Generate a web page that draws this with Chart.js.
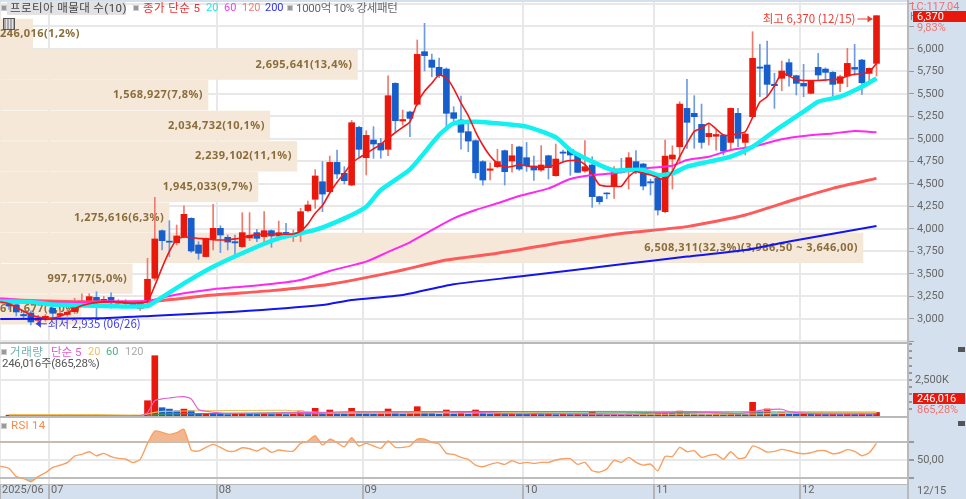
<!DOCTYPE html>
<html>
<head>
<meta charset="utf-8">
<script src="https://cdn.jsdelivr.net/npm/chart.js@4"></script>
<style>
html, body { margin: 0; padding: 0; width: 966px; height: 499px; overflow: hidden; background: #d5e0ee; font-family: "Noto Sans CJK KR", sans-serif; }
canvas { position: absolute; left: 0; }
.t { position: absolute; font-size: 11.5px; line-height: 14px; white-space: nowrap; font-family: Roboto, "Noto Sans CJK KR", sans-serif; }
.n { font-size: 11px; }
.sq { position: absolute; width: 4px; height: 4px; background: #999; border: 1px solid #ccc; }
.line { position: absolute; background: #b9b9b9; }
</style>
</head>
<body>
<canvas id="profileChart" width="908" height="341" style="top:2px"></canvas>
<canvas id="mainChart" width="966" height="341" style="top:2px"></canvas>
<canvas id="volumeChart" width="966" height="74" style="top:343px"></canvas>
<canvas id="rsiChart" width="966" height="82" style="top:417px"></canvas>

<div class="line" style="left:0;top:342px;width:908px;height:2px"></div>
<div class="line" style="left:0;top:416px;width:908px;height:2px"></div>
<div class="line" style="left:0;top:484px;width:908px;height:1px"></div>
<div class="line" style="left:907px;top:0;width:2px;height:499px"></div>

<div class="sq" style="left:1px;top:5px"></div>
<div class="t" style="left:7px;top:1px;width:119px;height:14px;background:#e2e2e2;color:#444;padding-left:3px;box-sizing:border-box;letter-spacing:.4px">프로티아 매물대 수(10)</div>
<div class="sq" style="left:133px;top:5px"></div>
<div class="t" style="left:143px;top:1px;color:#f03030;letter-spacing:.4px">종가 단순 5</div>
<div class="t n" style="left:206px;top:1px;color:#22e8e8">20</div>
<div class="t n" style="left:224px;top:1px;color:#f040f0">60</div>
<div class="t n" style="left:242px;top:1px;color:#f87878">120</div>
<div class="t n" style="left:265px;top:1px;color:#3030f0">200</div>
<div class="sq" style="left:287px;top:5px"></div>
<div class="t" style="left:296px;top:1px;color:#666;letter-spacing:-.3px">1000억 10% 강세패턴</div>
<div style="position:absolute;left:3px;top:18px;width:10px;height:10px;border:1px solid #555;background:repeating-linear-gradient(90deg,#aaa 0 2px,#e4e4e4 2px 3px)"></div>

<div class="sq" style="left:1px;top:349px"></div>
<div class="t" style="left:10px;top:345px;color:#6fb0b0;letter-spacing:.6px">거래량</div>
<div class="t" style="left:51px;top:345px;color:#e060d0">단순 5</div>
<div class="t n" style="left:88px;top:345px;color:#f0c060">20</div>
<div class="t n" style="left:106px;top:345px;color:#50b080">60</div>
<div class="t n" style="left:125px;top:345px;color:#aaa">120</div>
<div class="t" style="left:2px;top:356px;color:#555;letter-spacing:-.3px">246,016주(865,28%)</div>

<div class="sq" style="left:1px;top:423px"></div>
<div class="t" style="left:11px;top:418px;color:#f58a50;letter-spacing:.3px">RSI 14</div>

<div class="t n" style="left:911px;top:0;color:#f07070">LC:117,04</div>
<div class="t n" style="left:910px;top:10px;color:#5a8ad8">H</div>
<div class="t n" style="left:913px;top:11px;width:53px;height:11px;line-height:11px;background:#e8180c;color:#fff;padding-left:4px;box-sizing:border-box">6,370</div>
<div class="t n" style="left:917px;top:21px;color:#f07070">9,83%</div>
<div class="t n" style="left:913px;top:393px;width:52px;height:11px;line-height:11px;background:#e8180c;color:#fff;padding-left:4px;box-sizing:border-box">246,016</div>
<div class="t n" style="left:917px;top:403px;color:#f07070">865,28%</div>
<div class="t n" style="left:917px;top:484px;color:#666">12/15</div>
<div style="position:absolute;left:958px;top:347px;width:7px;height:5px;background:#555"></div>
<div style="position:absolute;left:958px;top:421px;width:7px;height:5px;background:#555"></div>

<script>
const opens = [3178,3156,3050,3067,2985,3000,3118,3040,3050,3081,
    3174,3174,3240,3204,3240,3195,3190,3174,3118,3181,
    3452,3981,3865,3848,3915,4118,3822,3693,3885,4007,
    3907,3859,3804,3900,3959,3915,3981,3922,3962,3915,
    3959,4204,4330,4525,4414,4740,4618,4488,5129,4792,
    4988,4951,4885,5618,5200,5300,5385,5970,5877,5796,
    5777,5292,5211,5081,4981,4748,4652,4692,4870,4755,
    4911,4792,4700,4655,4814,4592,4855,4885,4833,4644,
    4711,4359,4400,4470,4666,4666,4748,4722,4525,4562,
    4192,4777,4914,5340,5285,5162,5025,5030,5044,4962,
    5285,4962,5248,5800,5822,5608,5674,5848,5703,5618,
    5507,5796,5777,5740,5618,5700,5795,5877,5729,5840];
const closes = [3144,3078,3035,2967,3010,3030,3063,3060,3075,3174,
    3200,3248,3192,3218,3200,3175,3170,3137,3174,3441,
    3889,3870,3853,3922,4163,3755,3730,3896,4007,3933,
    3855,3845,3959,3930,3896,3981,3922,3959,3950,3952,
    4192,4267,4589,4388,4740,4611,4537,5181,4885,5040,
    4944,4877,5481,5203,5216,5229,5940,5926,5796,5703,
    5285,5229,5074,4977,4625,4544,4668,4748,4637,4814,
    4666,4703,4655,4711,4681,4777,4842,4822,4629,4692,
    4359,4303,4390,4666,4629,4792,4655,4477,4512,4210,
    4810,4822,5388,5185,5248,4962,5062,5050,4866,5340,
    5007,5055,5896,5786,5607,5592,5755,5703,5618,5588,
    5644,5711,5740,5607,5692,5840,5775,5625,5785,6370];
const highs = [3200,3190,3078,3090,3040,3050,3160,3100,3110,3230,
    3280,3280,3303,3250,3290,3215,3215,3180,3180,3674,
    4352,3990,4092,4044,4256,4125,3859,3900,4274,4037,
    3933,3933,4181,4181,3996,4192,3990,4088,4063,3990,
    4230,4310,4660,4748,4810,4877,4692,5206,5140,5092,
    5137,5007,5703,5625,5322,5310,6100,6285,5944,5900,
    5790,5359,5477,5211,4990,4760,4736,4885,4878,4940,
    4920,4962,4811,4926,4820,4944,4877,4890,4840,4981,
    4803,4365,4403,4692,4785,4848,4870,4730,4555,4570,
    4988,4925,5414,5662,5481,5388,5173,5100,5050,5345,
    5340,5062,6192,6052,6088,5730,5866,5888,5710,5830,
    5650,5951,5790,5750,5710,6007,6051,5885,5790,6370];
const lows = [3105,3034,3010,2935,2965,2975,3010,3020,3030,3060,
    3150,3165,3018,3190,3120,3130,3130,3130,3095,3160,
    3430,3767,3693,3822,3900,3740,3663,3690,3767,3737,
    3767,3700,3795,3870,3860,3860,3796,3900,3915,3860,
    3860,4190,4229,4192,4400,4563,4500,4480,4803,4600,
    4785,4785,4814,5070,5155,5025,5370,5755,5692,5680,
    5129,5203,4888,4859,4563,4488,4545,4680,4488,4630,
    4650,4640,4540,4640,4555,4585,4748,4596,4625,4630,
    4240,4275,4335,4340,4620,4445,4615,4433,4377,4155,
    4180,4444,4729,4896,4896,4896,4933,4877,4822,4877,
    4915,4822,5240,5470,5470,5340,5536,5588,5489,5470,
    5500,5648,5644,5481,5525,5580,5710,5496,5610,5700];

// 화면 왼쪽 끝에서 잘린 구간
const leadDay = -1.2;
const ma5Lead = 3190;
const rsiLead = 43;

const ma5 = [3170,3130,3085,3045,3022,3010,3010,3030,3065,3115,
    3150,3170,3182,3190,3192,3190,3182,3175,3180,3195,
    3370,3570,3750,3880,3910,3905,3895,3890,3880,3878,
    3880,3890,3900,3925,3935,3942,3945,3942,3942,3945,
    3975,4055,4175,4260,4400,4520,4620,4730,4790,4840,
    4890,4940,5010,5070,5130,5190,5400,5530,5620,5710,
    5680,5560,5400,5260,5080,4930,4810,4730,4690,4695,
    4715,4700,4690,4685,4695,4710,4745,4760,4760,4715,
    4610,4490,4475,4475,4475,4580,4635,4618,4600,4570,
    4545,4640,4800,4950,5085,5120,5175,5110,5045,5040,
    5060,5080,5240,5410,5470,5590,5730,5700,5660,5650,
    5650,5650,5655,5660,5665,5700,5720,5725,5745,5840];

const ma20Days = [-1.2,3,6,10,15,19,20,24,28,33,37,42,46,49,51,55,59,61,64,66,71,75,77,80,83,85,87,89,91,93,96,99,102,105,109,111,114,117,119];
const ma20 = [3195,3190,3160,3150,3140,3145,3190,3396,3581,3767,3896,3989,4118,4248,4433,4662,5044,5174,5192,5181,5137,5018,4877,4748,4648,4655,4655,4599,4618,4692,4748,4803,4914,5088,5303,5414,5470,5581,5673];
const ma60Days = [-1.2,5,9,13,19,22,24,28,32,36,40,44,49,52,55,58,61,64,67,70,74,77,80,83,87,91,93,96,99,102,106,109,113,116,119];
const ma60 = [3230,3192,3185,3195,3200,3255,3285,3330,3359,3389,3433,3534,3637,3745,3852,3988,4118,4211,4285,4366,4451,4555,4599,4618,4673,4703,4766,4803,4877,4914,4996,5033,5062,5088,5074];
const ma120Days = [-1.2,5,10,19,28,36,44,53,60,67,76,84,93,101,108,113,119];
const ma120 = [3215,3200,3190,3192,3266,3315,3386,3526,3656,3730,3852,3950,4026,4155,4333,4451,4562];
const ma200Days = [-1.2,12,20,31,43,47,54,61,70,84,93,101,107,119];
const ma200 = [3000,3007,3037,3081,3155,3211,3267,3386,3471,3608,3693,3767,3860,4034];

// 매물대, 위에서 아래로
const profilePrices = [6167,5827,5487,5147,4807,4467,4127,3790,3447,3107];
const profileVolumes = [246016,2695641,1568927,2034732,2239102,1945033,1275616,6508311,997177,610677];
const profileLabels = ['246,016(1,2%)','2,695,641(13,4%)','1,568,927(7,8%)','2,034,732(10,1%)','2,239,102(11,1%)','1,945,033(9,7%)','1,275,616(6,3%)','6,508,311(32,3%)(3,986,50 ~ 3,646,00)','997,177(5,0%)','610,677(3,0%)'];

// 거래량 (천주)
const volumes = [60,30,25,70,30,25,30,35,25,30,
    35,30,30,25,30,25,30,25,30,1062,
    4187,576,480,355,480,368,150,180,170,120,
    100,120,150,130,110,130,110,130,100,120,
    347,180,535,200,417,180,130,535,220,170,
    140,160,486,220,150,180,646,300,180,130,
    417,150,200,140,417,180,130,170,140,160,
    130,120,140,110,130,100,130,110,140,120,
    300,150,110,130,110,140,120,130,110,180,
    300,200,340,180,150,130,110,130,100,140,
    120,110,950,300,490,190,220,180,160,180,
    130,150,120,140,120,150,120,140,120,246];
const volMa5Days = [0,18,19,20,21,22,23,24,25,26,27,30,40,44,48,52,56,60,64,68,72,80,85,90,92,95,100,102,103,104,106,107,110,115,119];
const volMa5 = [30,30,240,1070,1190,1250,1320,1340,1180,450,330,180,230,260,300,280,300,290,260,160,160,150,130,230,300,270,170,300,390,440,470,300,160,140,150];
const volMa20Days = [0,12,18,19,21,38,40,44,60,72,85,92,102,108,119];
const volMa20 = [90,90,60,150,320,400,320,230,220,200,120,130,140,200,240];
const volMa60Days = [19,22,40,60,72,80,100,108,119];
const volMa60 = [40,150,220,300,290,280,210,210,230];
const volMa120Days = [40,80,119];
const volMa120 = [150,320,280];

const rsi = [40.4,31,29,25.2,31,35.5,41.5,44,47,54.5,
    56.4,59.5,54.9,57.6,53.8,51.8,51.1,47,50.7,69,
    83.1,81.6,79.3,81.2,85,61.4,60.2,64.4,67.8,64.4,
    60.2,60.2,64,62.9,60.2,64,58.7,61.4,60.2,60.2,
    69,71.7,77.8,67,73.9,69.8,65.2,75.5,66,69,
    66,63.3,71.7,64.4,64.4,66,73.9,73.9,70.1,68.2,
    57.6,56.4,53,50.7,44.2,42.3,45,47,45,49.2,
    46.1,47.3,46.1,47.3,47.3,50,51.5,51.5,45,47.3,
    37.7,36.2,39.6,49.6,47.3,53,47.3,44.2,45.4,37.7,
    54.1,54.1,64.4,59.5,60.6,53,55.3,56.4,50.7,59.5,
    51.8,53,66,63.3,59.1,59.8,62.1,60.6,58.3,57.2,
    58.3,60.6,60.6,57.2,58.3,61.8,59.8,54.9,58.3,69];

const monthTicks = [-1.2346,5.5,28.5,48.5,70.5,88.5,108.5];
const monthLabels = ['2025/06','07','08','09','10','11','12'];
const priceTicks = [2750,3000,3250,3500,3750,4000,4250,4500,4750,5000,5250,5500,5750,6000,6250,6500];
const volumeTicks = [500,1000,1500,2000,2500,3000,3500,4000,4500,5000];
const rsiTicks = [30,50,70];

const xMin = -1.2346, xMax = 123.32;
const yMin = 2733, yMax = 6522;
const gridColor = '#e8e8e8';
const RED = '#e8180c', BLUE = '#155ecb';
const axisFont = { family: 'Roboto, sans-serif', size: 11 };

Chart.defaults.animation = false;
Chart.defaults.responsive = false;
Chart.defaults.plugins.legend.display = false;
Chart.defaults.plugins.tooltip.enabled = false;

const xy = (days, values) => days.map((d, i) => ({ x: d, y: values[i] }));
const days = opens.map((_, i) => i);
const lineSet = (data, color, width, order) => ({
    type: 'line', data, borderColor: color, borderWidth: width, pointRadius: 0, tension: 0.2, order, fill: false
});
const whitePlot = {
    id: 'whitePlot',
    beforeDraw(chart) {
        const a = chart.chartArea;
        chart.ctx.fillStyle = '#fff';
        chart.ctx.fillRect(a.left, a.top, a.width, a.height);
    }
};
const monthAxis = extra => Object.assign({
    type: 'linear', min: xMin, max: xMax, offset: false,
    afterBuildTicks: s => { s.ticks = monthTicks.map(v => ({ value: v })); },
    grid: { color: gridColor, lineWidth: 2, drawTicks: false, offset: false },
    border: { display: false },
    ticks: { display: false, autoSkip: false, maxRotation: 0 }
}, extra);
const rightAxis = (ticks, min, max, cb, grid) => ({
    position: 'right', min, max,
    afterBuildTicks: s => { s.ticks = ticks.map(v => ({ value: v })); },
    // 눈금 글자 때문에 플롯이 줄어들지 않게
    afterFit: s => { s.width = 58; s.paddingTop = 0; s.paddingBottom = 0; },
    grid: Object.assign({ tickLength: 6, tickColor: '#999' }, grid),
    border: { display: false },
    ticks: { color: '#666', font: axisFont, padding: 3, callback: cb, autoSkip: false }
});

// 매물대 막대 + 격자: 캔들 아래 캔버스
new Chart(document.getElementById('profileChart'), {
    type: 'bar',
    data: {
        datasets: [{
            data: profilePrices.map((p, i) => ({ x: profileVolumes[i], y: p })),
            backgroundColor: '#f5e8d8', barThickness: 29.5, xAxisID: 'x', yAxisID: 'y'
        }]
    },
    options: {
        indexAxis: 'y',
        layout: { padding: 0 },
        scales: {
            x: { display: false, type: 'linear', min: 0, max: 6847700 },
            months: monthAxis({ axis: 'x', position: 'bottom', afterFit: s => { s.height = 0; s.paddingLeft = 0; s.paddingRight = 0; } }),
            y: {
                type: 'linear', min: yMin, max: yMax, position: 'right', offset: false,
                afterBuildTicks: s => { s.ticks = priceTicks.map(v => ({ value: v })); },
                afterFit: s => { s.width = 0; s.paddingTop = 0; s.paddingBottom = 0; },
                grid: { color: gridColor, lineWidth: 2, drawTicks: false, offset: false },
                border: { display: false },
                ticks: { display: false }
            }
        }
    },
    plugins: [whitePlot, {
        id: 'profileText',
        afterDatasetsDraw(chart) {
            const ctx = chart.ctx;
            ctx.font = 'bold 11px "Noto Sans", sans-serif';
            ctx.letterSpacing = '0.45px';
            ctx.fillStyle = '#8a6d3b';
            ctx.textBaseline = 'middle';
            chart.getDatasetMeta(0).data.forEach((bar, i) => {
                const w = ctx.measureText(profileLabels[i]).width;
                ctx.textAlign = 'left';
                ctx.fillText(profileLabels[i], Math.max(0, bar.x - 5 - w), bar.y);
            });
        }
    }]
});

new Chart(document.getElementById('mainChart'), {
    data: {
        datasets: [
            { type: 'bar', data: days.map(i => ({ x: i, y: [lows[i], highs[i]] })), barThickness: 1, grouped: false, order: 7,
              backgroundColor: days.map(i => closes[i] >= opens[i] ? '#f0796b' : '#6d9be2') },
            { type: 'bar', data: days.map(i => ({ x: i, y: [opens[i], closes[i]] })), barThickness: 6, grouped: false, order: 6,
              backgroundColor: days.map(i => closes[i] >= opens[i] ? RED : BLUE) },
            lineSet(xy(ma200Days, ma200), '#1414f0', 2, 5),
            lineSet(xy(ma120Days, ma120), '#ff5a5a', 3, 4),
            lineSet(xy(ma60Days, ma60), '#ff28f0', 2, 3),
            lineSet(xy(ma20Days, ma20), '#12f0f0', 4.5, 2),
            lineSet([{ x: leadDay, y: ma5Lead }, ...xy(days, ma5)], '#f01818', 1.6, 1)
        ]
    },
    options: {
        layout: { padding: 0 },
        scales: {
            x: { type: 'linear', display: false, min: xMin, max: xMax, offset: false },
            y: rightAxis(priceTicks, yMin, yMax,
                v => (v >= 3000 && v <= 6000) ? v.toLocaleString('en-US') : '',
                { drawOnChartArea: false })
        }
    },
    plugins: [{
        id: 'extremes',
        afterDatasetsDraw(chart) {
            const ctx = chart.ctx, x = chart.scales.x, y = chart.scales.y;
            ctx.font = '11.5px "Noto Sans CJK KR", sans-serif';
            ctx.textBaseline = 'middle';
            const hx = x.getPixelForValue(119) - 4, hy = 17;
            ctx.fillStyle = ctx.strokeStyle = '#f03a30';
            ctx.lineWidth = 1;
            ctx.textAlign = 'right';
            ctx.fillText('최고 6,370 (12/15)', hx - 17, hy);
            ctx.beginPath(); ctx.moveTo(hx - 15, hy); ctx.lineTo(hx, hy); ctx.stroke();
            ctx.beginPath(); ctx.moveTo(hx, hy); ctx.lineTo(hx - 5, hy - 3.5); ctx.lineTo(hx - 5, hy + 3.5); ctx.fill();
            const lx = x.getPixelForValue(3) + 5, ly = y.getPixelForValue(2935) - 1;
            ctx.fillStyle = ctx.strokeStyle = '#3c3ce8';
            ctx.textAlign = 'left';
            ctx.fillText('최저 2,935 (06/26)', lx + 12, ly);
            ctx.beginPath(); ctx.moveTo(lx, ly); ctx.lineTo(lx + 5, ly - 4); ctx.lineTo(lx + 5, ly + 4); ctx.fill();
            ctx.beginPath(); ctx.moveTo(lx, ly); ctx.lineTo(lx + 11, ly); ctx.stroke();
        }
    }]
});

new Chart(document.getElementById('volumeChart'), {
    data: {
        datasets: [
            { type: 'bar', data: volumes.map((v, i) => ({ x: i, y: v })), barThickness: 6, grouped: false, order: 5,
              backgroundColor: volumes.map((v, i) => (i === 0 || v >= volumes[i - 1]) ? RED : BLUE) },
            lineSet(xy(volMa120Days, volMa120), '#aaaaaa', 1, 4),
            lineSet(xy(volMa60Days, volMa60), '#3f9f60', 1.2, 3),
            lineSet(xy(volMa20Days, volMa20), '#eebb55', 1.2, 2),
            lineSet(xy(volMa5Days, volMa5), '#e060d0', 1.2, 1)
        ]
    },
    options: {
        layout: { padding: 0 },
        scales: {
            x: monthAxis({ afterFit: s => { s.height = 0; } }),
            y: rightAxis(volumeTicks, -69, 5069, v => v === 2500 ? '2,500K' : '',
                { color: c => c.tick && c.tick.value === 2500 ? gridColor : 'transparent', lineWidth: 2, tickLength: 4 })
        }
    },
    plugins: [whitePlot]
});

const rsiPoints = [{ x: leadDay, y: rsiLead }, ...xy(days, rsi)];
new Chart(document.getElementById('rsiChart'), {
    data: {
        datasets: [
            lineSet(rsiPoints, '#f8a062', 1.4, 1),
            { type: 'line', data: rsiPoints, borderWidth: 0, pointRadius: 0, tension: 0.2, order: 3,
              fill: { target: { value: 70 }, above: '#f3b78f', below: 'transparent' } },
            { type: 'line', data: rsiPoints, borderWidth: 0, pointRadius: 0, tension: 0.2, order: 2,
              fill: { target: { value: 30 }, above: 'transparent', below: '#a8d0e0' } }
        ]
    },
    options: {
        layout: { padding: 0 },
        scales: {
            x: monthAxis({
                afterFit: s => { s.height = 15; },
                grid: { color: gridColor, lineWidth: 2, tickLength: 15, tickColor: '#b4b4b4' },
                ticks: {
                    display: true, align: 'start', autoSkip: false, maxRotation: 0, padding: -15, labelOffset: 2,
                    color: '#666', font: axisFont,
                    callback: v => monthLabels[monthTicks.indexOf(v)]
                }
            }),
            y: rightAxis(rsiTicks, 22.6, 99.1, v => v === 50 ? '50,00' : '',
                { color: c => c.tick && c.tick.value === 50 ? gridColor : '#bdbdbd', lineWidth: 2 })
        }
    },
    plugins: [whitePlot]
});
</script>
</body>
</html>
